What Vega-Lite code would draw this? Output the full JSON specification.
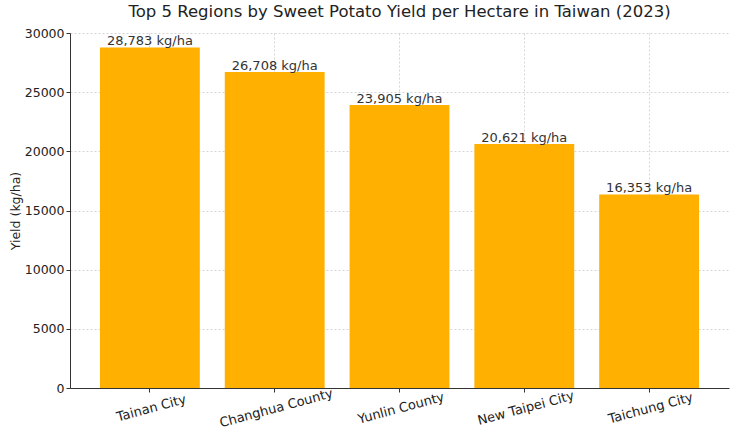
{
  "$schema": "https://vega.github.io/schema/vega-lite/v6.json",
  "autosize": {"type": "none"},
  "padding": {"left": 70, "top": 33, "right": 11, "bottom": 56},
  "width": 659,
  "height": 355,
  "background": "white",
  "config": {
    "font": "DejaVu Sans",
    "view": {"stroke": null},
    "axis": {
      "labelFont": "DejaVu Sans",
      "titleFont": "DejaVu Sans",
      "labelFontSize": 13,
      "labelColor": "#222",
      "titleFontWeight": "normal",
      "titleFontSize": 12.5,
      "titleColor": "#222",
      "domainColor": "#333",
      "tickColor": "#333",
      "tickSize": 4,
      "gridColor": "#cccccc",
      "gridDash": [2, 2],
      "gridOpacity": 0.8,
      "zindex": 1
    }
  },
  "title": {
    "text": "Top 5 Regions by Sweet Potato Yield per Hectare in Taiwan (2023)",
    "fontSize": 16.5,
    "fontWeight": "normal",
    "color": "#222",
    "font": "DejaVu Sans",
    "anchor": "middle",
    "offset": 7
  },
  "data": {
    "values": [
      {"region": "Tainan City", "yield": 28783, "label": "28,783 kg/ha"},
      {"region": "Changhua County", "yield": 26708, "label": "26,708 kg/ha"},
      {"region": "Yunlin County", "yield": 23905, "label": "23,905 kg/ha"},
      {"region": "New Taipei City", "yield": 20621, "label": "20,621 kg/ha"},
      {"region": "Taichung City", "yield": 16353, "label": "16,353 kg/ha"}
    ]
  },
  "encoding": {
    "x": {
      "field": "region",
      "type": "nominal",
      "sort": null,
      "title": null,
      "scale": {"paddingInner": 0.2, "paddingOuter": 0.24},
      "axis": {
        "labelAngle": -15,
        "labelAlign": "center",
        "labelBaseline": "top",
        "labelPadding": 10,
        "bandPosition": 0.5,
        "grid": true
      }
    },
    "y": {
      "field": "yield",
      "type": "quantitative",
      "title": "Yield (kg/ha)",
      "scale": {"domain": [0, 30000], "nice": false},
      "axis": {
        "values": [0, 5000, 10000, 15000, 20000, 25000, 30000],
        "format": "d",
        "labelFontSize": 12.5,
        "titlePadding": 2,
        "grid": true
      }
    }
  },
  "layer": [
    {
      "mark": {"type": "bar", "color": "#FFB000"}
    },
    {
      "mark": {
        "type": "text",
        "baseline": "bottom",
        "dy": 1,
        "fontSize": 13,
        "color": "#333",
        "font": "DejaVu Sans"
      },
      "encoding": {
        "text": {"field": "label", "type": "nominal"}
      }
    }
  ]
}
